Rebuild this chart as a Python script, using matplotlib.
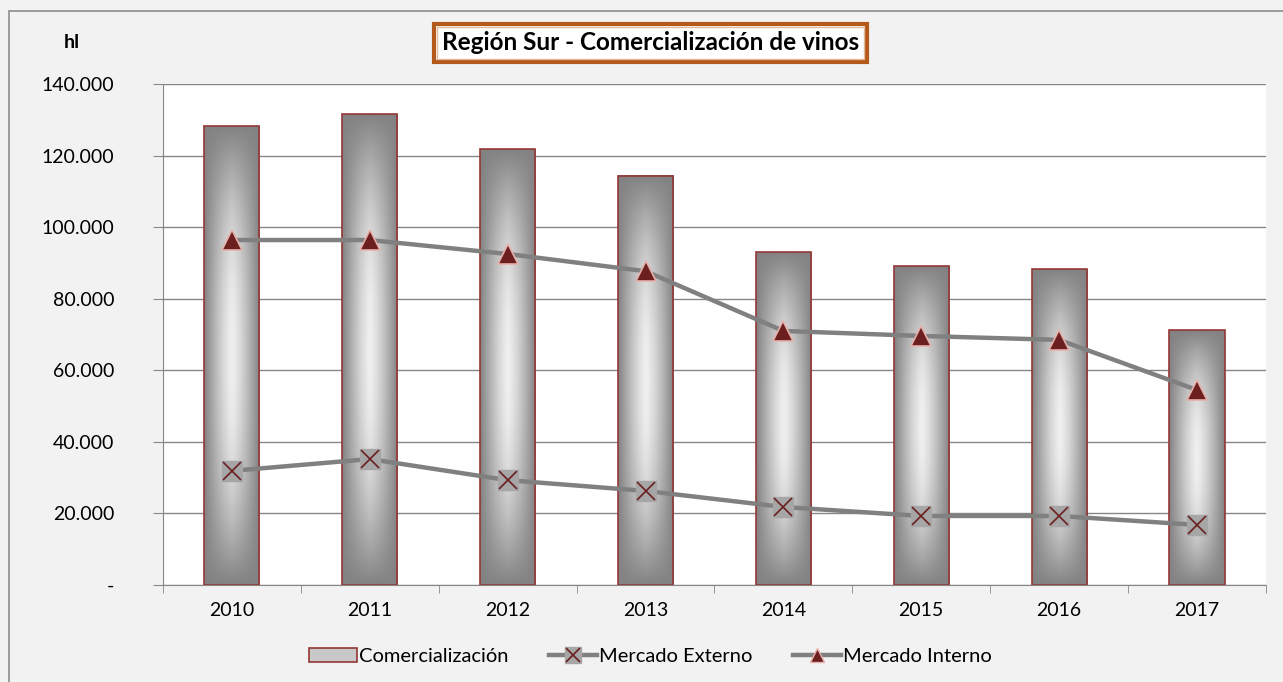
import numpy as np
import matplotlib.pyplot as plt
from matplotlib.patches import Rectangle, Patch
from matplotlib.lines import Line2D
from matplotlib.ticker import FuncFormatter

plt.rcParams['font.family'] = ['Lato', 'DejaVu Sans']

# Datos (hl)
anios = ['2010', '2011', '2012', '2013', '2014', '2015', '2016', '2017']
comercializacion = [128200, 131600, 121800, 114300, 93000, 89100, 88300, 71200]
mercado_externo = [31900, 35200, 29300, 26300, 21800, 19300, 19300, 16800]
mercado_interno = [96400, 96400, 92500, 87700, 71000, 69600, 68500, 54500]

x = np.arange(len(anios))
ancho = 0.4

fig = plt.figure(figsize=(12.83, 6.82), dpi=100)
fig.patch.set_facecolor('#f2f2f2')
ax = fig.add_axes([0.127, 0.1422, 0.8597, 0.7346])
ax.set_facecolor('white')

# Borde exterior del gráfico
fig.add_artist(Rectangle((9 / 1283, -0.01), 1.0, 1 - 11 / 682 + 0.01,
                         transform=fig.transFigure, fill=False,
                         edgecolor='#8c8c8c', linewidth=1.2))

# Gradiente de las barras (oscuro en los bordes, claro al centro)
u = np.linspace(-1, 1, 60)
v = np.linspace(-1, 1, 300)
U, V = np.meshgrid(u, v)
grad = 0.51 + 0.43 * (1 - np.abs(U) ** 1.3) * (1 - np.abs(V) ** 2.2)
for xi, h in zip(x, comercializacion):
    ax.imshow(grad, cmap='gray', vmin=0, vmax=1, aspect='auto',
              extent=(xi - ancho / 2, xi + ancho / 2, 0, h), zorder=1,
              interpolation='bilinear')
    ax.add_patch(Rectangle((xi - ancho / 2, 0), ancho, h, fill=False,
                           edgecolor='#953735', linewidth=1.2, zorder=2))

# Líneas
ax.plot(x, mercado_externo, color='#808080', linewidth=3.2, zorder=3)
ax.plot(x, mercado_externo, linestyle='none', marker='s', markersize=14,
        markerfacecolor='#a6a6a6', markeredgecolor='#a6a6a6', zorder=4)
ax.plot(x, mercado_externo, linestyle='none', marker='x', markersize=13,
        markeredgecolor='#6b1f1f', markeredgewidth=1.2, zorder=5)
ax.plot(x, mercado_interno, color='#808080', linewidth=3.2, zorder=3)
ax.plot(x, mercado_interno, linestyle='none', marker='^', markersize=14,
        markerfacecolor='#6b1f1f', markeredgecolor='#e6b0aa',
        markeredgewidth=1.2, zorder=4)

ax.set_xlim(-0.5, len(anios) - 0.5)
ax.set_ylim(0, 140000)
ax.set_yticks(np.arange(0, 140001, 20000))
ax.yaxis.set_major_formatter(FuncFormatter(
    lambda val, pos: '-' if val == 0 else f'{int(val):,}'.replace(',', '.')))
ax.set_xticks(x)
ax.set_xticklabels(anios)
ax.set_xticks(np.arange(-0.5, len(anios), 1), minor=True)
ax.tick_params(axis='x', which='major', length=0, pad=12, labelsize=14)
ax.tick_params(axis='x', which='minor', length=6, color='#868686')
ax.tick_params(axis='y', length=7, color='#868686', pad=28, labelsize=14)
for lab in ax.get_yticklabels():
    lab.set_horizontalalignment('right')
ax.grid(axis='y', color='#868686', linewidth=1, zorder=0)
ax.set_axisbelow(True)
for s in ['top', 'right']:
    ax.spines[s].set_visible(False)
for s in ['left', 'bottom']:
    ax.spines[s].set_color('#868686')

# Título (marco doble) y unidad
titulo = 'Región Sur - Comercialización de vinos'
fig.text(0.507, 0.937, titulo, ha='center', va='center', fontsize=17.5,
         fontweight='bold',
         bbox=dict(boxstyle='square,pad=0.32', facecolor='white',
                   edgecolor='#b35a1a', linewidth=3))
fig.text(0.507, 0.937, titulo, ha='center', va='center', fontsize=17.5,
         fontweight='bold',
         bbox=dict(boxstyle='square,pad=0.2', facecolor='white',
                   edgecolor='#e3b99a', linewidth=1))
fig.text(0.056, 0.938, 'hl', ha='center', va='center', fontsize=14,
         fontweight='bold')

# Leyenda
h_ext_linea = Line2D([0], [0], color='#808080', linewidth=3.2, marker='s',
                     markersize=11, markerfacecolor='#a6a6a6',
                     markeredgecolor='#a6a6a6')
h_ext_x = Line2D([0], [0], linestyle='none', marker='x', markersize=10,
                 markeredgecolor='#6b1f1f', markeredgewidth=1.2)
handles = [
    Patch(facecolor='#c8c8c8', edgecolor='#953735', linewidth=1.2),
    (h_ext_linea, h_ext_x),
    Line2D([0], [0], color='#808080', linewidth=3.2, marker='^',
           markersize=10, markerfacecolor='#6b1f1f',
           markeredgecolor='#e6b0aa'),
]
fig.legend(handles, ['Comercialización', 'Mercado Externo', 'Mercado Interno'],
           loc='center', bbox_to_anchor=(0.507, 0.038), ncol=3, frameon=False,
           fontsize=14.5, handlelength=2.4, handletextpad=0.1,
           columnspacing=2.0)

fig.savefig('out.png', dpi=100, facecolor=fig.get_facecolor())
